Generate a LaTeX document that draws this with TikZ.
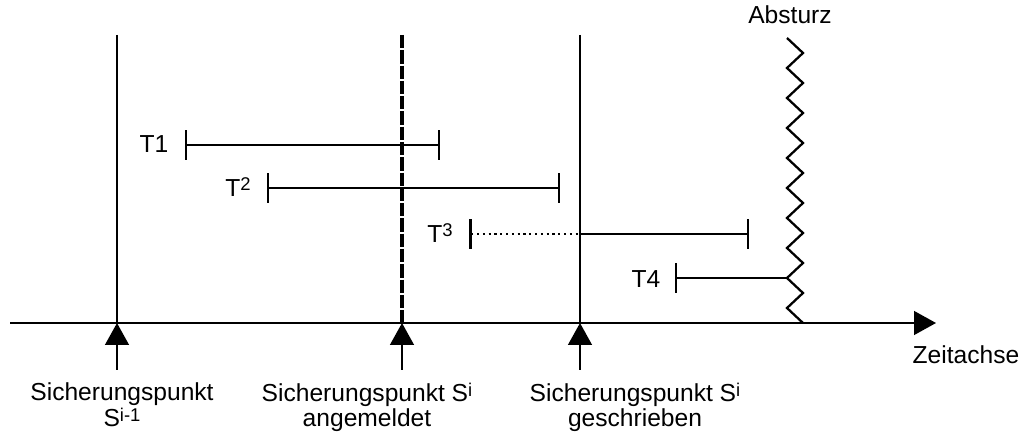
\documentclass[tikz,border=0pt]{standalone}
\usepackage{fontspec}
\setmainfont{Liberation Sans}
\usetikzlibrary{arrows.meta}
\newcommand{\idx}[1]{\raisebox{0.4ex}{\fontsize{10.5}{11}\selectfont #1}}

\begin{document}
\begin{tikzpicture}[x=0.02cm,y=-0.02cm,line width=1.3pt,
	label_node/.style={inner sep=0pt,font=\fontsize{14}{12.6}\selectfont,align=center},
	point_arrow/.style={-{Triangle[length=12.5pt,width=13.5pt]}},
	bar_line/.style={{Bar[width=17pt]}-{Bar[width=17pt]}},
	dot_line/.style={line width=1.7pt,dash pattern=on 1.2pt off 2.1pt},
	dash_line/.style={line width=1.8pt,dash pattern=on 7.6pt off 1.1pt}]
		
		\useasboundingbox (0,0) rectangle (1024,435);
		
		% time axis
		\coordinate (axis_start) at (10,323);
		\coordinate (axis_end) at (936,323);
		\draw[point_arrow] (axis_start) -- (axis_end);
		\node[label_node] (zeit) at (966,355) {Zeitachse};
		
		% checkpoints
		\coordinate (s0_top) at (117,35);
		\coordinate (s0_axis) at (117,323);
		\coordinate (s0_foot) at (117,370);
		\coordinate (s1_top) at (402,35);
		\coordinate (s1_axis) at (402,323);
		\coordinate (s1_foot) at (402,370);
		\coordinate (s2_top) at (580,35);
		\coordinate (s2_axis) at (580,323);
		\coordinate (s2_foot) at (580,370);
		
		\draw (s0_top) -- (s0_axis);
		\draw[dash_line] (s1_top) -- (s1_axis);
		\draw (s2_top) -- (s2_axis);
		\draw[point_arrow] (s0_foot) -- (s0_axis);
		\draw[point_arrow] (s1_foot) -- (s1_axis);
		\draw[point_arrow] (s2_foot) -- (s2_axis);
		
		\node[label_node,anchor=north] (s0_label) at (122,382) {Sicherungspunkt\\S\idx{i-1}};
		\node[label_node,anchor=north] (s1_label) at (367,382) {Sicherungspunkt S\idx{i}\\angemeldet};
		\node[label_node,anchor=north] (s2_label) at (635,382) {Sicherungspunkt S\idx{i}\\geschrieben};
		
		% crash
		\node[label_node] (crash) at (790,15) {Absturz};
		\coordinate (crash_top) at (787,38);
		\draw (crash_top) \foreach \k in {1,...,19} {-- ({787+16*mod(\k,2)},{38+15*\k})};
		
		% transactions
		\node[label_node] (t1) at (154,144) {T1};
		\coordinate (t1_start) at (185,145);
		\coordinate (t1_end) at (440,145);
		\draw[bar_line] (t1_start) -- (t1_end);
		
		\node[label_node] (t2) at (238,187) {T\idx{2}};
		\coordinate (t2_start) at (267,188);
		\coordinate (t2_end) at (560,188);
		\draw[bar_line] (t2_start) -- (t2_end);
		
		\node[label_node] (t3) at (440,233) {T\idx{3}};
		\coordinate (t3_start) at (469,234);
		\coordinate (t3_mid) at (582,234);
		\coordinate (t3_end) at (749,234);
		\draw[{Bar[width=17pt]}-,dot_line] (t3_start) -- (t3_mid);
		\draw[-{Bar[width=17pt]}] (t3_mid) -- (t3_end);
		
		\node[label_node] (t4) at (646,279) {T4};
		\coordinate (t4_start) at (675,278);
		\coordinate (t4_end) at (787,278);
		\draw[{Bar[width=17pt]}-] (t4_start) -- (t4_end);
		\end{tikzpicture}
\end{document}
